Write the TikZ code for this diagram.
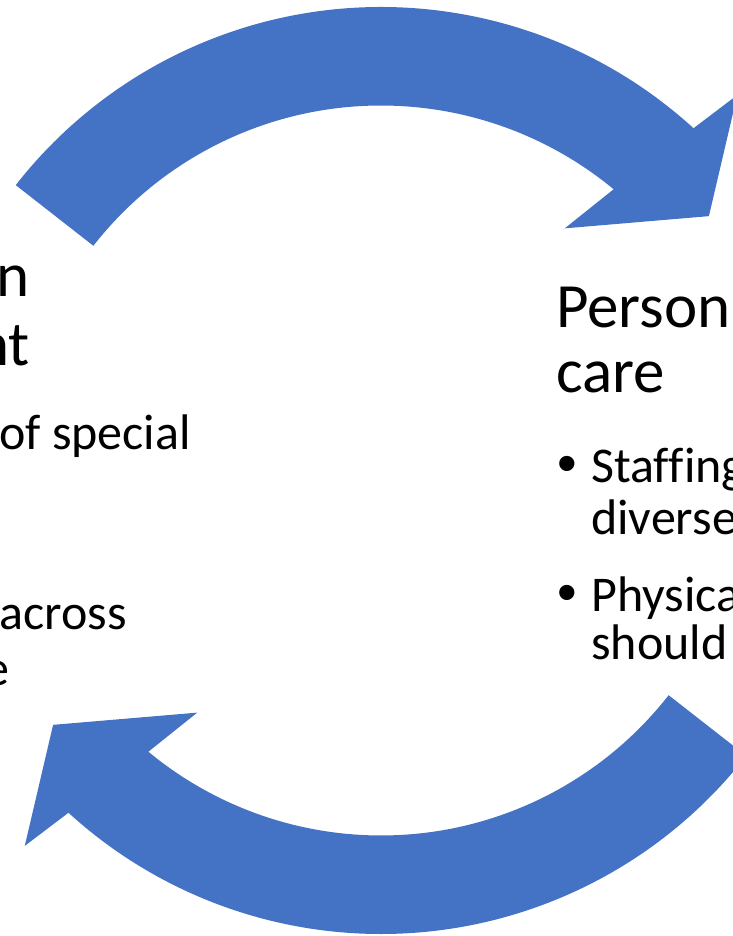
\documentclass[tikz,border=0pt]{standalone}
\usepackage{fontspec}
\setmainfont{Carlito}[Ligatures=NoCommon]
\newfontfamily\bulletfont{Liberation Sans}
\definecolor{arrowblue}{HTML}{4472C4}
\begin{document}
\begin{tikzpicture}[x=1bp,y=1bp,
  cyclearrow/.style={fill=arrowblue, draw=none},
  headtext/.style={inner sep=0, font=\fontsize{63bp}{68bp}\selectfont},
  bodytext/.style={inner sep=0, font=\fontsize{50bp}{55bp}\selectfont},
  bullettext/.style={inner sep=0, font=\bulletfont\fontsize{56bp}{60bp}\selectfont},
]
\useasboundingbox (0,0) rectangle (733,936);
\coordinate (C) at (381,465.5);
% upper arc arrow, running clockwise towards the right
\begin{scope}[shift={(C)}]
  \fill[cyclearrow] (142:463.5) arc[start angle=142, end angle=47.6, radius=463.5]
    -- (46.5:517.5) -- (37.8:415) -- (52.8:304) -- (50.4:365)
    arc[start angle=50.4, end angle=142, radius=365] -- cycle;
\end{scope}
% lower arc arrow, the same shape turned half way round
\begin{scope}[shift={(C)}, rotate=180]
  \fill[cyclearrow] (142:463.5) arc[start angle=142, end angle=47.6, radius=463.5]
    -- (46.5:517.5) -- (37.8:415) -- (52.8:304) -- (50.4:365)
    arc[start angle=50.4, end angle=142, radius=365] -- cycle;
\end{scope}
% left text block
\node[headtext, anchor=base east] (lt1) at (30,639) {n};
\node[headtext, anchor=base east] (lt2) at (30,570) {nt};
\node[bodytext, anchor=base east] (lb1) at (191,486) {of special};
\node[bodytext, anchor=base east] (lb2) at (127,306) {across};
\node[bodytext, anchor=base east] (lb3) at (10,250) {e};
% right text block
\node[headtext, anchor=base west] (rt1) at (556,608) {Person};
\node[headtext, anchor=base west] (rt2) at (556,543) {care};
\node[bullettext, anchor=base west] (rd1) at (557,453) {•};
\node[bodytext, anchor=base west] (rb1) at (591,453) {Staffing};
\node[bodytext, anchor=base west] (rb2) at (591,401) {diverse};
\node[bullettext, anchor=base west] (rd2) at (557,324) {•};
\node[bodytext, anchor=base west] (rb3) at (591,324) {Physica};
\node[bodytext, anchor=base west] (rb4) at (591,276) {should};
\end{tikzpicture}
\end{document}
